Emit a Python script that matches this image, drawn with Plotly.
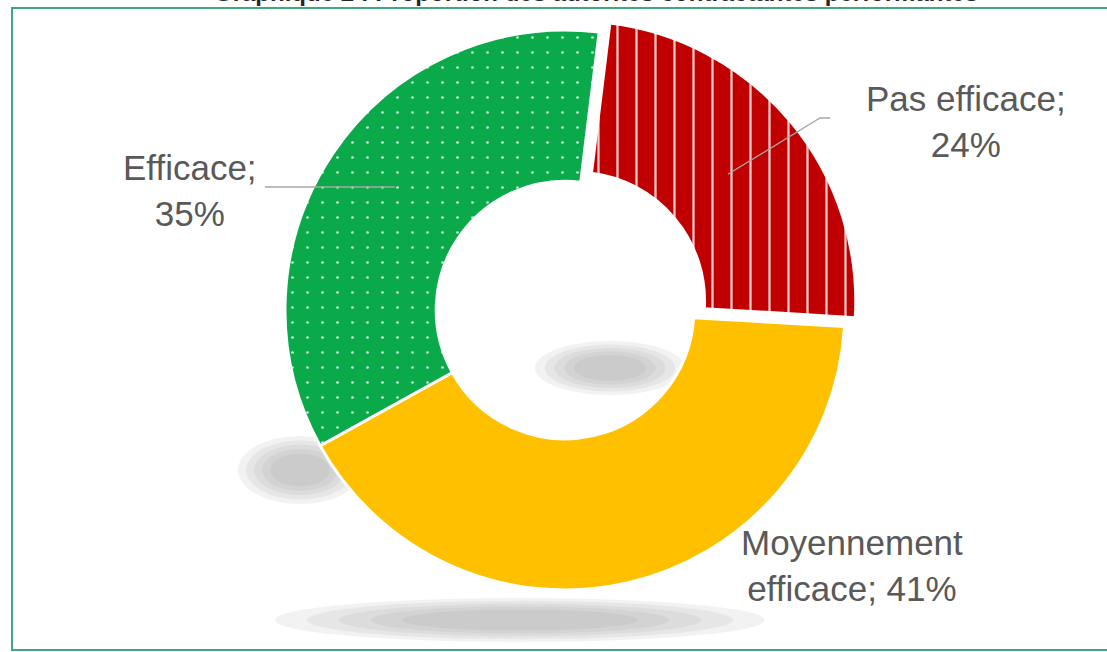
import plotly.graph_objects as go
import math

# ---- data ----
categories = ["Pas efficace", "Moyennement efficace", "Efficace"]
values = [24, 41, 35]
colors = ["#C00000", "#FFC000", "#0AAA4B"]
label_lines = [["Pas efficace;", "24%"], ["Moyennement", "efficace; 41%"], ["Efficace;", "35%"]]
title_text = "Graphique 2 : Proportion des autorités contractantes performantes"

W, H = 1107, 652
def px(x):
    return x / W
def py(y):
    return 1 - y / H

# donut geometry (pixel)
cx, cy, R = 565, 310, 280
pull_red = 0.05
half = R * (1 + pull_red)

fig = go.Figure()
fig.add_trace(go.Pie(
    labels=categories,
    values=values,
    sort=False,
    direction="clockwise",
    rotation=7,
    hole=0.46,
    pull=[pull_red, 0, 0],
    textinfo="none",
    hoverinfo="label+percent",
    marker=dict(
        colors=colors,
        line=dict(color="white", width=3),
        pattern=dict(shape=["|", "", "."], fgcolor="white", bgcolor=colors, size=[19, 15, 15],
                     solidity=[0.12, 0.0, 0.025], fgopacity=0.8, fillmode="replace"),
    ),
    domain=dict(x=[px(cx - half), px(cx + half)], y=[py(cy + half), py(cy - half)]),
    showlegend=False,
))

shapes = []
# faked blurred shadows
def shadow(xc, yc, rx, ry, steps=5):
    for i in range(steps):
        f = 1 - i * 0.13
        shapes.append(dict(type="circle", xref="paper", yref="paper",
                           x0=px(xc - rx * f), x1=px(xc + rx * f),
                           y0=py(yc + ry * f), y1=py(yc - ry * f),
                           fillcolor="#9a9a9a", opacity=0.13, line=dict(width=0),
                           layer="below"))
shadow(300, 470, 62, 34)
shadow(520, 620, 245, 22)
shadow(610, 368, 75, 27)

# frame
shapes.append(dict(type="rect", xref="paper", yref="paper",
                   x0=px(12), x1=px(1112), y0=py(650), y1=py(8),
                   line=dict(color="#3FA87C", width=2), fillcolor="rgba(0,0,0,0)"))

# leader lines
ang_start = 7
cum = 0
mids = []
for v in values:
    mids.append(ang_start + (cum + v / 2) / sum(values) * 360)
    cum += v
def slice_pt(i, r, pull=0.0):
    a = math.radians(mids[i])
    ox = cx + pull * R * math.sin(a)
    oy = cy - pull * R * math.cos(a)
    return ox + r * math.sin(a), oy - r * math.cos(a)

ex, ey = slice_pt(0, 198, pull_red)
shapes.append(dict(type="path", xref="paper", yref="paper",
                   path=f"M {px(830)} {py(118)} L {px(820)} {py(118)} L {px(ex)} {py(ey)}",
                   line=dict(color="#A6A6A6", width=1.3)))
ex2, ey2 = slice_pt(2, 205)
shapes.append(dict(type="line", xref="paper", yref="paper",
                   x0=px(265), y0=py(187), x1=px(ex2), y1=py(187),
                   line=dict(color="#A6A6A6", width=1.3)))

lab_font = dict(family="Liberation Sans, Arial, sans-serif", size=35, color="#595959")
common = dict(showarrow=False, xref="paper", yref="paper", font=lab_font,
              align="center", xanchor="center", yanchor="middle")
annotations = [
    dict(x=px(966), y=py(121), text="<br>".join(label_lines[0]), **common),
    dict(x=px(852), y=py(565), text="<br>".join(label_lines[1]), **common),
    dict(x=px(190), y=py(190), text="<br>".join(label_lines[2]), **common),
    dict(x=px(596), y=py(8), yanchor="bottom", xanchor="center", text="<b>" + title_text + "</b>",
         showarrow=False, xref="paper", yref="paper",
         font=dict(family="Liberation Sans, Arial, sans-serif", size=24, color="#262626")),
]

fig.update_layout(
    width=W, height=H,
    margin=dict(l=0, r=0, t=0, b=0),
    paper_bgcolor="white", plot_bgcolor="white",
    shapes=shapes, annotations=annotations,
)
fig.write_html("out.html")
